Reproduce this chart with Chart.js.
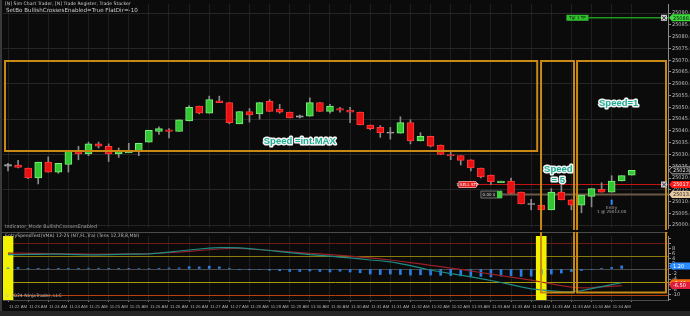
<!DOCTYPE html>
<html>
<head>
<meta charset="utf-8">
<script src="https://cdn.jsdelivr.net/npm/chart.js@4.4.1/dist/chart.umd.min.js"></script>
<style>
  html, body { margin: 0; padding: 0; background: #0b0b0b; overflow: hidden; }
  #wrap { position: relative; width: 690px; height: 316px; }
  #priceChart { position: absolute; left: 0; top: 0; }
  #indChart { position: absolute; left: 0; top: 232px; }
  #edge { position: absolute; left: 0; top: 0; width: 2px; height: 311px; background: #3a3a3a; }
  #scroll { position: absolute; left: 0; top: 311px; width: 690px; height: 5px; background: #262626; }
</style>
</head>
<body>
<div id="wrap">
  <canvas id="priceChart" width="690" height="232"></canvas>
  <canvas id="indChart" width="690" height="84"></canvas>
  <div id="edge"></div>
  <div id="scroll"></div>
</div>
<script>
Chart.defaults.font.family = "'DejaVu Sans', sans-serif";
Chart.defaults.color = '#bdbdbd';

// candles (one every bar)
var opens = [25025.25, 25025.5, 25024.25, 25020, 25026.75, 25022.5, 25025.75, 25031.25, 25030.25, 25034.5,
  25033.5, 25030.25, 25030.75, 25031.5, 25035.25, 25039.75, 25040.5, 25039.75, 25044.25, 25050.5,
  25047.5, 25052.75, 25052, 25043, 25048.25, 25047.25, 25052.5, 25049.25, 25048, 25046,
  25046.25, 25052, 25048.25, 25049.5, 25048.75, 25048, 25042.5, 25041.5, 25039.25, 25039,
  25043.5, 25035.75, 25037.75, 25034, 25030, 25029.5, 25027.75, 25024.25, 25021.25, 25018,
  25018.75, 25014, 25009, 25008.5, 25006.5, 25014, 25010.75, 25008.5, 25012.25, 25015.25,
  25014, 25018.75, 25021.25];
var closes = [25025.5, 25024.5, 25020, 25026.75, 25022.5, 25026.25, 25031.5, 25030.25, 25034.5, 25033.5,
  25030.25, 25031.25, 25031.5, 25034.75, 25040.25, 25041, 25039.75, 25044.75, 25050, 25047.5,
  25053.25, 25052, 25043.5, 25048.25, 25046.75, 25052, 25048.25, 25048, 25045.5, 25046.25,
  25052, 25048.25, 25050.5, 25048.75, 25048, 25042.5, 25041, 25039.25, 25039.25, 25043.5,
  25035.75, 25037.75, 25033.5, 25030, 25029.5, 25027.5, 25024.25, 25020.5, 25018.5, 25018.75,
  25013.5, 25009, 25009, 25006.5, 25014, 25010.75, 25008.5, 25012.75, 25015.5, 25014,
  25018.75, 25021, 25023.25];
var highs = [25026.25, 25027.5, 25024.25, 25026.75, 25029, 25026.25, 25031.5, 25033.5, 25035.25, 25035.25,
  25034.5, 25032.75, 25034.75, 25034.75, 25040.25, 25041.75, 25041, 25044.75, 25050.75, 25050.5,
  25054.75, 25054.75, 25052, 25048.25, 25049.5, 25052, 25053.25, 25051.25, 25048, 25046.75,
  25054, 25052, 25051.25, 25050, 25050, 25048, 25042.5, 25042.25, 25041.5, 25046,
  25044.75, 25039.25, 25037.75, 25034, 25031.25, 25029.5, 25027.75, 25024.25, 25021.25, 25018.75,
  25020, 25014, 25011, 25008.5, 25015.5, 25017.25, 25010.75, 25012.75, 25015.5, 25018,
  25021, 25021, 25023.25];
var lows = [25023, 25024.25, 25019.75, 25017.5, 25022.5, 25022, 25022.5, 25027.75, 25029.5, 25032.75,
  25027, 25028.75, 25030.75, 25029.5, 25035.25, 25038.5, 25037, 25039.75, 25044.25, 25047.25,
  25047.5, 25052, 25043, 25043, 25043.75, 25045, 25048.25, 25047.5, 25045.5, 25045.5,
  25046.25, 25048.25, 25047.5, 25048, 25043.5, 25042.5, 25040.5, 25037.25, 25036.5, 25039,
  25034.5, 25035.75, 25033.25, 25030, 25027.75, 25025.5, 25023, 25020, 25017.25, 25018,
  25013.5, 25009, 25006.5, 25003.75, 25006.5, 25010.75, 25006.5, 25005.25, 25007.75, 25014,
  25014, 25018.75, 25021.25];

// time labels, one every second bar
var timeLabels = ['11:22 AM', '11:23 AM', '11:24 AM', '11:24 AM', '11:25 AM', '11:25 AM', '11:25 AM', '11:26 AM',
  '11:26 AM', '11:26 AM', '11:27 AM', '11:27 AM', '11:28 AM', '11:28 AM', '11:29 AM', '11:30 AM', '11:30 AM',
  '11:30 AM', '11:31 AM', '11:31 AM', '11:32 AM', '11:32 AM', '11:32 AM', '11:33 AM', '11:33 AM', '11:33 AM',
  '11:33 AM', '11:33 AM', '11:33 AM', '11:34 AM', '11:34 AM'];

// indicator panel
var fastVma = [5.6, 5.6, 5.7, 5.7, 5.8, 5.8, 5.7, 5.6, 5.5, 5.5,
  5.6, 5.7, 5.8, 5.8, 5.9, 6.2, 6.6, 7.0, 7.4, 7.8,
  8.1, 8.3, 8.3, 8.2, 7.9, 7.6, 7.2, 6.8, 6.4, 6.0,
  5.6, 5.3, 5.0, 4.6, 4.3, 3.9, 3.5, 3.2, 2.8, 2.1,
  1.3, 0.4, -0.5, -1.1, -1.8, -2.4, -3.1, -3.8, -4.5, -5.3,
  -6.1, -7.0, -7.8, -8.2, -8.6, -8.8, -8.9, -8.5, -7.7, -6.9,
  -6.1, -5.4];
var slowVma = [6.2, 6.2, 6.1, 6.1, 6.0, 6.0, 5.9, 5.9, 5.8, 5.8,
  5.8, 5.8, 5.9, 5.9, 6.0, 6.2, 6.4, 6.6, 6.9, 7.2,
  7.5, 7.8, 8.0, 8.0, 7.8, 7.5, 7.3, 7.0, 6.7, 6.4,
  6.1, 5.9, 5.6, 5.3, 5.0, 4.6, 4.3, 3.9, 3.5, 3.0,
  2.5, 2.0, 1.4, 0.9, 0.3, -0.2, -0.8, -1.4, -2.0, -2.6,
  -3.2, -3.8, -4.4, -5.1, -5.8, -6.5, -7.1, -7.4, -7.3, -7.0,
  -6.8, -6.5];
var entrySpeed = [0.4, 0.6, 0.1, 0.1, 0.2, 0.1, 0.1, 0.1, 0.3, 0.3,
  0.1, 0.1, 0.1, 0.2, 0.2, 0.1, 0.4, 0.4, 0.9, 0.8,
  1.1, 0.8, 0.3, -0.3, -0.3, -0.2, -0.5, -0.7, -1.0, -1.0,
  -0.8, -1.0, -1.2, -0.9, -1.2, -1.5, -2.0, -2.2, -2.0, -2.2,
  -2.4, -2.3, -2.4, -2.5, -2.6, -2.7, -2.8, -2.9, -3.1, -2.8,
  -2.6, -2.9, -2.8, -2.0, -2.0, -1.6, -1.0, -0.6, -0.2, 0.1,
  0.6, 1.2];
var highlightBars = [0, 53];
var levels = [10, 5, 0, -5, -10];

var targetPrice = 25088.00;
var stopPrice = 25017.25;
var entryPrice = 25013.00;
var entryBar = 60;

var xMin = -0.5, xMax = 65.6;
var priceMin = 24998.8, priceMax = 25093.85;
var indMin = -12.13, indMax = 12.87;
var zoneColor = '#c88a14';
var levelColors = ['#6e1a10', '#8a7d0c', '#4a4a4a', '#a89a0a', '#b8400e'];

// speed boxes: bar from/to, top price, bottom either price or indicator value
var zones = [
  { from: -0.3, to: 52.6, top: 25069.7, bottom: 25031.5 },
  { from: 52.98, to: 56.26, top: 25069.7, low: -9.2 },
  { from: 56.56, to: 65.4, top: 25069.7, low: -9.2 }
];
var notes = [
  { text: ['Speed =int.MAX'], x: 29.0, p: 25035.7 },
  { text: ['Speed', '= 5'], x: 54.7, p: 25023.8 },
  { text: ['Speed=1'], x: 60.7, p: 25051.6 }
];

var bars = opens.map(function (o, i) { return i; });

function candleColor(i) {
  if (Math.abs(closes[i] - opens[i]) < 0.5) return '#9a9a9a';
  return closes[i] > opens[i] ? '#33c633' : '#e81010';
}
function candleEdge(i) {
  if (Math.abs(closes[i] - opens[i]) < 0.5) return '#bdbdbd';
  return closes[i] > opens[i] ? '#7cf07c' : '#ff3a3a';
}
function bodyRange(i) {
  var lo = Math.min(opens[i], closes[i]), hi = Math.max(opens[i], closes[i]);
  if (hi - lo < 0.4) { lo -= 0.2; hi += 0.2; }
  return [lo, hi];
}

function timeAxis(showLabels) {
  return {
    type: 'linear', min: xMin, max: xMax, offset: false,
    afterBuildTicks: function (s) {
      s.ticks = timeLabels.map(function (t, k) { return { value: 1 + 2 * k }; });
    },
    ticks: {
      display: showLabels, autoSkip: false, maxRotation: 0, padding: 2,
      font: { size: 4.3, family: "'Liberation Sans', sans-serif" }, color: '#a8a8a8',
      callback: function (v) { return timeLabels[(v - 1) / 2]; }
    },
    grid: { color: '#1f1f1f', drawTicks: showLabels, tickLength: 2, tickColor: '#777' },
    border: { display: showLabels, color: '#4a4a4a' },
    afterFit: function (s) { s.height = showLabels ? 16 : 0; }
  };
}

function axisTag(ctx, left, y, text, fill, color, stroke) {
  var h = 7, w = 21;
  ctx.beginPath();
  ctx.moveTo(left, y);
  ctx.lineTo(left + 3, y - h / 2);
  ctx.lineTo(left + w, y - h / 2);
  ctx.lineTo(left + w, y + h / 2);
  ctx.lineTo(left + 3, y + h / 2);
  ctx.closePath();
  ctx.fillStyle = fill;
  ctx.fill();
  if (stroke) { ctx.strokeStyle = stroke; ctx.lineWidth = 1; ctx.stroke(); }
  ctx.fillStyle = color;
  ctx.font = "5px 'DejaVu Sans'";
  ctx.textAlign = 'left';
  ctx.textBaseline = 'middle';
  ctx.fillText(text, left + 4, y + 0.5);
}

function closeBox(ctx, x, y) {
  ctx.fillStyle = '#d0d0d0';
  ctx.fillRect(x - 3, y - 3, 6, 6);
  ctx.strokeStyle = '#222';
  ctx.lineWidth = 1;
  ctx.beginPath();
  ctx.moveTo(x - 2, y - 2); ctx.lineTo(x + 2, y + 2);
  ctx.moveTo(x + 2, y - 2); ctx.lineTo(x - 2, y + 2);
  ctx.stroke();
}

var priceOverlay = {
  id: 'priceOverlay',
  beforeDatasetsDraw: function (chart) {
    var ctx = chart.ctx, x = chart.scales.x, y = chart.scales.y, a = chart.chartArea;
    ctx.save();
    // order lines
    ctx.lineWidth = 1.5;
    ctx.strokeStyle = '#1f9a1f';
    ctx.beginPath();
    ctx.moveTo(x.getPixelForValue(57.7), y.getPixelForValue(targetPrice));
    ctx.lineTo(a.right, y.getPixelForValue(targetPrice));
    ctx.stroke();
    ctx.lineWidth = 1;
    ctx.strokeStyle = '#c81414';
    ctx.beginPath();
    ctx.moveTo(x.getPixelForValue(46.7), y.getPixelForValue(stopPrice));
    ctx.lineTo(a.right, y.getPixelForValue(stopPrice));
    ctx.stroke();
    ctx.lineWidth = 2;
    ctx.strokeStyle = '#6b5a48';
    ctx.beginPath();
    ctx.moveTo(x.getPixelForValue(49.1), y.getPixelForValue(entryPrice));
    ctx.lineTo(a.right, y.getPixelForValue(entryPrice));
    ctx.stroke();
    ctx.restore();
  },
  afterDatasetsDraw: function (chart) {
    var ctx = chart.ctx, x = chart.scales.x, y = chart.scales.y, a = chart.chartArea;
    ctx.save();
    // zones
    ctx.strokeStyle = zoneColor;
    ctx.lineWidth = 2;
    zones.forEach(function (z) {
      var l = x.getPixelForValue(z.from), r = x.getPixelForValue(z.to), t = y.getPixelForValue(z.top);
      ctx.beginPath();
      if (z.bottom !== undefined) {
        ctx.rect(l, t, r - l, y.getPixelForValue(z.bottom) - t);
      } else {
        ctx.moveTo(l, a.bottom + 2); ctx.lineTo(l, t); ctx.lineTo(r, t); ctx.lineTo(r, a.bottom + 2);
      }
      ctx.stroke();
    });
    // speed notes
    ctx.font = "bold 9.5px 'Liberation Sans'";
    ctx.textAlign = 'center';
    ctx.textBaseline = 'middle';
    ctx.lineJoin = 'round';
    notes.forEach(function (n) {
      n.text.forEach(function (t, k) {
        var px = x.getPixelForValue(n.x), py = y.getPixelForValue(n.p) + k * 11;
        ctx.lineWidth = 3;
        ctx.strokeStyle = '#f4f4f4';
        ctx.strokeText(t, px, py);
        ctx.fillStyle = '#1fae93';
        ctx.fillText(t, px, py);
      });
    });
    // line tags
    var ys = y.getPixelForValue(stopPrice), ye = y.getPixelForValue(entryPrice), yt = y.getPixelForValue(targetPrice);
    var l1 = x.getPixelForValue(44.8), r1 = x.getPixelForValue(46.7);
    ctx.fillStyle = '#e51c1c';
    ctx.strokeStyle = '#ffb0b0';
    ctx.lineWidth = 0.8;
    ctx.beginPath();
    ctx.moveTo(l1, ys - 3); ctx.lineTo(r1 - 2, ys - 3); ctx.lineTo(r1, ys); ctx.lineTo(r1 - 2, ys + 3); ctx.lineTo(l1, ys + 3); ctx.closePath();
    ctx.fill(); ctx.stroke();
    ctx.fillStyle = '#fff';
    ctx.font = "4px 'DejaVu Sans'";
    ctx.textAlign = 'center';
    ctx.fillText('1 SELL STP', (l1 + r1) / 2 - 1, ys + 0.3);

    var l2 = x.getPixelForValue(47.0), r2 = x.getPixelForValue(49.1);
    ctx.fillStyle = '#1c1c1c';
    ctx.strokeStyle = '#8a8a8a';
    ctx.fillRect(l2, ye - 3.5, r2 - l2, 7);
    ctx.strokeRect(l2, ye - 3.5, r2 - l2, 7);
    ctx.fillStyle = '#3fcf3f';
    ctx.fillRect(r2 - 5, ye - 3.5, 5, 7);
    ctx.fillStyle = '#cfcfcf';
    ctx.fillText('0.00 $', (l2 + r2 - 5) / 2, ye + 0.3);

    var l3 = x.getPixelForValue(55.5), r3 = x.getPixelForValue(57.7);
    ctx.fillStyle = '#2fbf2f';
    ctx.fillRect(l3, yt - 3, r3 - l3, 6);
    ctx.fillStyle = '#0a0a0a';
    ctx.fillText('Tgt 1 TP', (l3 + r3) / 2, yt + 0.3);

    closeBox(ctx, a.right - 4, yt);
    closeBox(ctx, a.right - 4, ys);

    // entry marker
    var ex = x.getPixelForValue(entryBar);
    ctx.fillStyle = '#2f8fff';
    ctx.fillRect(ex - 1, y.getPixelForValue(25010.8), 2, 5);
    ctx.fillStyle = '#a8a8a8';
    ctx.font = "4.2px 'DejaVu Sans'";
    ctx.fillText('Entry', ex, y.getPixelForValue(25007.5));
    ctx.fillText('1 @ ' + entryPrice.toFixed(2), ex, y.getPixelForValue(25005.8));

    // price axis tags
    var ax = a.right + 1;
    axisTag(ctx, ax, yt, targetPrice.toFixed(2), '#3ddc3d', '#0a0a0a');
    axisTag(ctx, ax, y.getPixelForValue(closes[closes.length - 1]), closes[closes.length - 1].toFixed(2), '#0b0b0b', '#e0e0e0', '#b0b0b0');
    axisTag(ctx, ax, ys, stopPrice.toFixed(2), '#ff1a1a', '#ffffff');
    axisTag(ctx, ax, ye, entryPrice.toFixed(2), '#e8c9a0', '#2a2a2a');

    // panel captions
    ctx.textAlign = 'left';
    ctx.textBaseline = 'middle';
    ctx.fillStyle = '#cfcfcf';
    ctx.font = "4.6px 'DejaVu Sans'";
    ctx.fillText('[N] Sim Chart Trader, [N] Trade Register, Trade Stacker', 5, 4);
    ctx.font = "5.6px 'DejaVu Sans'";
    ctx.fillText('SetBo BullishCrossesEnabled=True FlatDir=-10', 6, 11);
    ctx.fillStyle = '#a0a0a0';
    ctx.font = "4.8px 'DejaVu Sans'";
    ctx.fillText('Indicator_Mode BullishCrossesEnabled', 5, 227);
    ctx.restore();
  }
};

var indOverlay = {
  id: 'indOverlay',
  beforeDatasetsDraw: function (chart) {
    var ctx = chart.ctx, y = chart.scales.y, a = chart.chartArea;
    ctx.save();
    ctx.lineWidth = 1;
    levels.forEach(function (v, k) {
      var py = Math.round(y.getPixelForValue(v)) + 0.5;
      ctx.strokeStyle = levelColors[k];
      ctx.beginPath();
      ctx.moveTo(a.left, py);
      ctx.lineTo(a.right, py);
      ctx.stroke();
    });
    ctx.restore();
  },
  afterDatasetsDraw: function (chart) {
    var ctx = chart.ctx, x = chart.scales.x, y = chart.scales.y, a = chart.chartArea;
    ctx.save();
    ctx.strokeStyle = '#4a4a4a';
    ctx.lineWidth = 1;
    ctx.beginPath();
    ctx.moveTo(0, 0.5);
    ctx.lineTo(a.right, 0.5);
    ctx.stroke();
    ctx.strokeStyle = zoneColor;
    ctx.lineWidth = 2;
    zones.forEach(function (z) {
      if (z.low === undefined) return;
      var l = x.getPixelForValue(z.from), r = x.getPixelForValue(z.to), b = y.getPixelForValue(z.low);
      ctx.beginPath();
      ctx.moveTo(l, -2); ctx.lineTo(l, b); ctx.lineTo(r, b); ctx.lineTo(r, -2);
      ctx.stroke();
    });
    ctx.textAlign = 'left';
    ctx.textBaseline = 'middle';
    ctx.fillStyle = '#bdbdbd';
    ctx.font = "4.6px 'DejaVu Sans'";
    ctx.fillText('EntrySpeedTest(VMA) 12-25 (NT,FL,Tra) (Tens 12,28,8,Mbl)', 5, 3.5);
    ctx.fillText('\u00a9 2024 NinjaTrader, LLC', 5, 64);
    var ax = a.right + 1;
    axisTag(ctx, ax, y.getPixelForValue(entrySpeed[entrySpeed.length - 1]), entrySpeed[entrySpeed.length - 1].toFixed(2), '#2a8cff', '#ffffff');
    axisTag(ctx, ax, y.getPixelForValue(fastVma[fastVma.length - 1]), fastVma[fastVma.length - 1].toFixed(2), '#f26a10', '#ffffff');
    axisTag(ctx, ax, y.getPixelForValue(slowVma[slowVma.length - 1]), slowVma[slowVma.length - 1].toFixed(2), '#e01e3c', '#ffffff');
    ctx.restore();
  }
};

var priceChart = new Chart(document.getElementById('priceChart'), {
  type: 'bar',
  data: {
    datasets: [{
      label: 'body',
      data: bars.map(function (i) { return { x: i, y: bodyRange(i) }; }),
      backgroundColor: bars.map(candleColor),
      borderColor: bars.map(candleEdge),
      borderWidth: 1,
      borderSkipped: false,
      barThickness: 7,
      grouped: false
    }, {
      label: 'wick',
      data: bars.map(function (i) { return { x: i, y: [lows[i], highs[i]] }; }),
      backgroundColor: '#8a8a8a',
      barThickness: 1,
      grouped: false
    }]
  },
  options: {
    responsive: false,
    animation: false,
    events: [],
    layout: { padding: { left: 3, right: 0, top: 0, bottom: 0 } },
    plugins: { legend: { display: false }, tooltip: { enabled: false } },
    scales: {
      x: timeAxis(false),
      y: {
        position: 'right', min: priceMin, max: priceMax,
        ticks: {
          stepSize: 5, includeBounds: false, autoSkip: false, padding: 1, font: { size: 5 }, color: '#c0c0c0',
          callback: function (v) { return v.toFixed(2); }
        },
        grid: {
          color: function (c) { return c.tick && Math.round(c.tick.value - 25000) % 15 === 0 ? '#262626' : 'rgba(0,0,0,0)'; },
          tickColor: '#8a8a8a', tickLength: 3
        },
        border: { color: '#8a8a8a' },
        afterFit: function (s) { s.width = 22; }
      }
    }
  },
  plugins: [priceOverlay]
});

var indChart = new Chart(document.getElementById('indChart'), {
  type: 'bar',
  data: {
    datasets: [{
      type: 'line',
      label: 'fast',
      data: fastVma.map(function (v, i) { return { x: i, y: v }; }),
      borderColor: '#1c8c86',
      borderWidth: 1.2,
      pointRadius: 0,
      tension: 0
    }, {
      type: 'line',
      label: 'slow',
      data: slowVma.map(function (v, i) { return { x: i, y: v }; }),
      borderColor: '#9a1f26',
      borderWidth: 1.2,
      pointRadius: 0,
      tension: 0
    }, {
      label: 'speed',
      data: entrySpeed.map(function (v, i) { return { x: i, y: [0, v] }; }),
      backgroundColor: '#2a7fe0',
      barThickness: 2,
      grouped: false
    }, {
      label: 'highlight',
      data: highlightBars.map(function (i) { return { x: i, y: [indMin, indMax] }; }),
      backgroundColor: '#f2f200',
      barThickness: 10,
      grouped: false
    }]
  },
  options: {
    responsive: false,
    animation: false,
    events: [],
    layout: { padding: { left: 3, right: 0, top: 0, bottom: 0 } },
    plugins: { legend: { display: false }, tooltip: { enabled: false } },
    scales: {
      x: timeAxis(true),
      y: {
        position: 'right', min: indMin, max: indMax,
        ticks: {
          stepSize: 2, includeBounds: false, autoSkip: false, padding: 1, font: { size: 5 }, color: '#c0c0c0',
          callback: function (v) { return (v >= -10 && v <= 8) ? String(v) : ''; }
        },
        grid: { drawOnChartArea: false, tickColor: '#8a8a8a', tickLength: 3 },
        border: { color: '#8a8a8a' },
        afterFit: function (s) { s.width = 22; }
      }
    }
  },
  plugins: [indOverlay]
});
</script>
</body>
</html>
